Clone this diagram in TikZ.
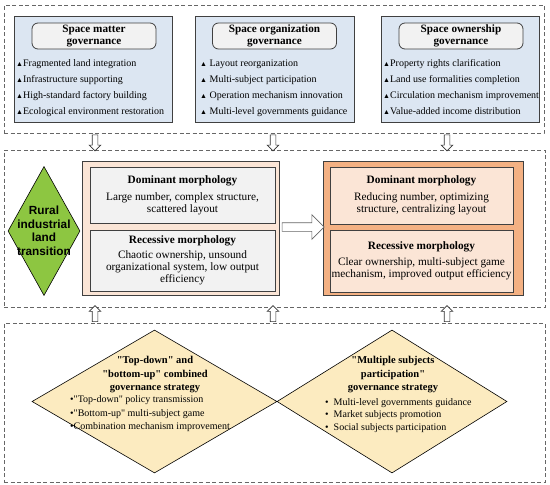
\documentclass[tikz,border=0pt]{standalone}
\usepackage{fontspec}
\setmainfont{Liberation Serif}
\setsansfont{Liberation Sans}
\usepackage{tikz}
\usetikzlibrary{calc}
\usetikzlibrary{positioning}
\usetikzlibrary{shapes}
\usetikzlibrary{shapes.arrows}
\usetikzlibrary{shapes.misc}

\definecolor{govblue}{HTML}{DCE6F2}
\definecolor{titlegray}{HTML}{F2F2F2}
\definecolor{landgreen}{HTML}{8DC641}
\definecolor{oldpeach}{HTML}{FBE5D6}
\definecolor{neworange}{HTML}{F4B183}
\definecolor{stratyellow}{HTML}{FCEBC0}
\definecolor{edgegray}{HTML}{404040}

\newcommand{\tri}{{\fontsize{7}{7}\selectfont▲}}
\newcommand{\dq}{\textquotedbl}

\begin{document}
\begin{tikzpicture}[x=1pt,y=-1pt,
	  outer box/.style={draw=black!60, dash pattern=on 4pt off 2.5pt, line width=0.9pt, minimum width=541pt, inner sep=0pt},
	  gov box/.style={draw=edgegray, fill=govblue, line width=0.9pt, minimum width=158pt, minimum height=106pt, inner sep=0pt},
	  title box/.style={draw=edgegray, fill=titlegray, rounded corners=6pt, line width=0.8pt, minimum width=124pt, minimum height=26pt, inner sep=0pt, align=center, font=\fontsize{11.2}{11.5}\selectfont\bfseries},
	  item text/.style={anchor=north west, inner sep=0pt, align=left, font=\fontsize{10}{16}\selectfont},
	  morph box/.style={chamfered rectangle, chamfered rectangle xsep=4pt, draw=edgegray, line width=0.9pt, minimum width=197pt, minimum height=134pt, inner sep=0pt},
	  inner box/.style={draw=edgegray, line width=0.9pt, minimum width=185pt, inner sep=0pt, align=center, font=\fontsize{11.3}{12}\selectfont},
	  strat node/.style={diamond, draw=black, fill=stratyellow, line width=0.6pt, minimum height=143pt, inner sep=0pt},
	  hollow arrow/.style={single arrow, draw=black!80, fill=white, line width=0.6pt, inner sep=2.5pt, single arrow head extend=3pt, minimum height=16pt}]

	 % outer dashed frames
	 \node[outer box, minimum width=540pt, minimum height=128pt] (govbox) at (274,69) {};
	 \node[outer box, minimum height=157pt] (transbox) at (274.5,228.5) {};
	 \node[outer box, minimum height=159pt] (stratbox) at (274.5,402.5) {};

	 % governance of space
	 \node[gov box] (matter) at (93,69) {};
	 \node[gov box, minimum width=159pt] (organ) at (274.5,69) {};
	 \node[gov box] (owner) at (460,69) {};
	 \node[title box] (mattertitle) at (94,36) {Space matter\\governance};
	 \node[title box] (organtitle) at (274.5,36) {Space organization\\governance};
	 \node[title box] (ownertitle) at (461,36) {Space ownership\\governance};
	 \node[item text] (matteritems) at (16,59.5) {\tri Fragmented land integration\\\tri Infrastructure supporting\\\tri High-standard factory building\\\tri Ecological environment restoration};
	 \node[item text] (organitems) at (200,59.5) {\tri\ Layout reorganization\\\tri\ Multi-subject participation\\\tri\ Operation mechanism innovation\\\tri\ Multi-level governments guidance};
	 \node[item text] (owneritems) at (383,59.5) {\tri Property rights clarification\\\tri Land use formalities completion\\\tri Circulation mechanism improvement\\\tri Value-added income distribution};

	 % land transition
	 \node[diamond, draw=black, fill=landgreen, line width=0.6pt, minimum width=72pt, minimum height=129pt, inner sep=0pt,
	       label={[align=center, font=\fontsize{11.8}{13.5}\selectfont\sffamily\bfseries]center:Rural\\industrial\\land\\transition}] (rilt) at (44,231) {};
	 \node[morph box, fill=oldpeach] (oldmorph) at (180.5,228) {};
	 \node[morph box, fill=neworange, minimum width=200pt] (newmorph) at (423,228) {};
	 \node[inner box, fill=titlegray, minimum height=56pt] (olddom) at (182.5,195) {\textbf{Dominant morphology}\\[5pt]Large number, complex structure,\\scattered layout};
	 \node[inner box, fill=titlegray, minimum height=61pt] (oldrec) at (182.5,260.5) {\textbf{Recessive morphology}\\[3pt]Chaotic ownership, unsound\\organizational system, low output\\efficiency};
	 \node[inner box, fill=oldpeach, minimum width=183pt, minimum height=57pt] (newdom) at (421.5,195.5) {\textbf{Dominant morphology}\\[5pt]Reducing number, optimizing\\structure, centralizing layout};
	 \node[inner box, fill=oldpeach, minimum width=183pt, minimum height=62pt] (newrec) at (421.5,261) {\textbf{Recessive morphology}\\[4pt]Clear ownership, multi-subject game\\mechanism, improved output efficiency};
	 \node[hollow arrow, inner sep=4pt, single arrow head extend=8pt, minimum height=42pt, draw=black!60] (shift) at ($ (oldmorph.east)!0.5!(newmorph.west) + (0,-1) $) {};

	 % strategies
	 \node[strat node, minimum width=245pt] (topdown) at (154.5,401.5) {};
	 \node[strat node, minimum width=230pt] (multisub) at (392,401.5) {};
	 \node[anchor=north, inner sep=0pt, align=center, font=\fontsize{10.5}{13.5}\selectfont\bfseries] (tdtitle) at (155,356.5) {\dq Top-down\dq{} and\\\dq bottom-up\dq{} combined\\governance strategy};
	 \node[anchor=north west, inner sep=0pt, align=left, font=\fontsize{10}{13.5}\selectfont] (tditems) at (70,395.5) {•\dq Top-down\dq{} policy transmission\\•\dq Bottom-up\dq{} multi-subject game\\•Combination mechanism improvement};
	 \node[anchor=north, inner sep=0pt, align=center, font=\fontsize{10.5}{13.5}\selectfont\bfseries] (mstitle) at (393,356.5) {\dq Multiple subjects\\participation\dq\\governance strategy};
	 \node[anchor=north west, inner sep=0pt, align=left, font=\fontsize{10}{12.5}\selectfont] (msitems) at (325,398) {•\ \ Multi-level governments guidance\\•\ \ Market subjects promotion\\•\ \ Social subjects participation};

	 % hollow arrows between frames
	 \node[hollow arrow, shape border rotate=270] (dnA) at (95,141.5) {};
	 \node[hollow arrow, shape border rotate=270] (dnB) at (273,141.5) {};
	 \node[hollow arrow, shape border rotate=270] (dnC) at (447,141.5) {};
	 \node[hollow arrow, shape border rotate=90] (upA) at (95,315) {};
	 \node[hollow arrow, shape border rotate=90] (upB) at (273,315) {};
	 \node[hollow arrow, shape border rotate=90] (upC) at (447,315) {};

	 \useasboundingbox (0,0) rectangle (550,485);
	\end{tikzpicture}
\end{document}
